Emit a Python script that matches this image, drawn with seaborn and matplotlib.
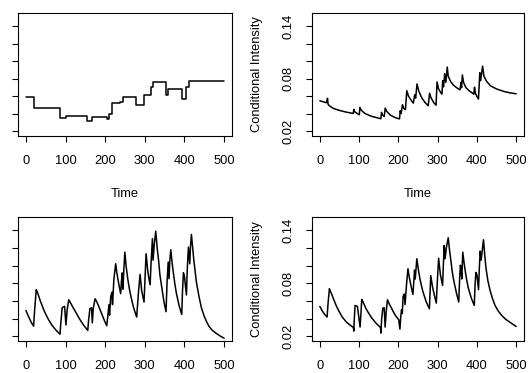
import numpy as np
import pandas as pd
import matplotlib
matplotlib.use("Agg")
import matplotlib.pyplot as plt
import seaborn as sns

# ---------------- data ----------------
# top-left: piecewise constant intensity (step change times and levels)
step_t = [0, 19.4, 86, 101, 155, 167, 205, 209, 216, 238, 245, 279, 298, 315,
          321.5, 354.4, 358.6, 393, 403, 411.6, 500]
step_v = [0.0593, 0.0462, 0.0350, 0.0376, 0.0323, 0.0368, 0.0346, 0.0398, 0.0525,
          0.0533, 0.0597, 0.0507, 0.0611, 0.0712, 0.0765, 0.0619, 0.0690, 0.0574,
          0.0705, 0.0776, 0.0776]

# top-right: conditional intensity (self-exciting, slow decay)
tr_t = [0, 10, 17, 19.5, 21, 25, 35, 50, 65, 85, 86.5, 88.5, 95, 100.5, 102, 106,
        115, 130, 145, 155.5, 157, 159, 164, 166.5, 170, 180, 192, 203, 204.5, 207,
        210.5, 214, 218, 221.5, 226, 232, 238, 241.5, 244, 247.5, 252, 260, 268,
        276, 279.5, 283, 290, 296, 298.5, 302, 307, 311, 313, 315, 318, 321, 324.5,
        327, 333, 340, 348, 357, 359.5, 361, 363, 366, 372, 380, 388, 392, 394, 396,
        400, 404, 407.5, 409.5, 414.5, 418, 425, 435, 450, 470, 485, 500]
tr_v = [0.0550, 0.0537, 0.0528, 0.0578, 0.0510, 0.0490, 0.0462, 0.0440, 0.0423,
        0.0405, 0.0452, 0.0425, 0.0405, 0.0390, 0.0475, 0.0440, 0.0405, 0.0375,
        0.0357, 0.0345, 0.0418, 0.0390, 0.0370, 0.0467, 0.0430, 0.0385, 0.0358,
        0.0343, 0.0435, 0.0405, 0.0505, 0.0460, 0.0450, 0.0665, 0.0600, 0.0560,
        0.0523, 0.0617, 0.0580, 0.0742, 0.0660, 0.0580, 0.0530, 0.0493, 0.0636,
        0.0585, 0.0530, 0.0500, 0.0765, 0.0690, 0.0650, 0.0625, 0.0780, 0.0710,
        0.0860, 0.0760, 0.0935, 0.0830, 0.0770, 0.0730, 0.0700, 0.0675, 0.0760,
        0.0700, 0.0845, 0.0760, 0.0700, 0.0665, 0.0640, 0.0625, 0.0705, 0.0640,
        0.0600, 0.0570, 0.0870, 0.0780, 0.0945, 0.0830, 0.0770, 0.0720, 0.0685,
        0.0655, 0.0640, 0.0630]

# bottom-left: conditional intensity
bl_t = [0, 8, 14, 19.4, 22, 26, 29, 32, 36, 40, 44, 48, 57, 66, 75, 86, 88, 91.5,
        97.5, 101, 104, 108, 111, 115, 120, 125, 135, 145, 156, 158.5, 161.5, 165.5,
        167.5, 170, 174.5, 178, 182, 186, 190, 198, 204, 207, 209.5, 211, 214, 217,
        218.5, 222, 226.5, 229, 232, 239, 241, 243, 244.8, 247, 249.6, 253, 257,
        261, 265, 272, 279.5, 284, 288, 292, 298, 300.5, 303.2, 308, 313.3, 316,
        319.2, 320.8, 324, 327.6, 331, 335, 338, 342, 348, 353.5, 356, 359, 361.2,
        363, 365.5, 369, 372, 376, 380, 387, 393.2, 395, 397.4, 400, 405, 407, 410,
        413.4, 415, 417.6, 421, 424, 430, 437, 443, 450, 456, 462, 470, 479, 490,
        500]
bl_v = [0.0494, 0.0410, 0.0355, 0.0315, 0.0500, 0.0729, 0.0700, 0.0660, 0.0605,
        0.0560, 0.0512, 0.0470, 0.0390, 0.0325, 0.0275, 0.0225, 0.0350, 0.0525,
        0.0540, 0.0330, 0.0500, 0.0615, 0.0592, 0.0560, 0.0518, 0.0480, 0.0400,
        0.0330, 0.0268, 0.0400, 0.0513, 0.0525, 0.0353, 0.0520, 0.0626, 0.0598,
        0.0560, 0.0515, 0.0470, 0.0380, 0.0320, 0.0450, 0.0560, 0.0440, 0.0650,
        0.0700, 0.0560, 0.0850, 0.1023, 0.0935, 0.0850, 0.0683, 0.0820, 0.0919,
        0.0734, 0.0950, 0.1154, 0.0990, 0.0850, 0.0740, 0.0650, 0.0520, 0.0419,
        0.0700, 0.0902, 0.0720, 0.0589, 0.0850, 0.1136, 0.0920, 0.0784, 0.1050,
        0.1306, 0.1063, 0.1250, 0.1392, 0.1210, 0.1050, 0.0900, 0.0780, 0.0600,
        0.0480, 0.0800, 0.1042, 0.0853, 0.1050, 0.1181, 0.1030, 0.0920, 0.0790,
        0.0680, 0.0540, 0.0449, 0.0700, 0.0921, 0.0880, 0.0669, 0.0950, 0.1211,
        0.1022, 0.1200, 0.1355, 0.1190, 0.1050, 0.0820, 0.0645, 0.0520, 0.0427,
        0.0365, 0.0314, 0.0270, 0.0238, 0.0205, 0.0180]

# bottom-right: conditional intensity
br_t = [0, 6, 12, 18.4, 21, 24.3, 27, 30, 34, 38, 42, 47, 57, 68, 78, 85.5, 86.5,
        88, 89.8, 95.7, 102.5, 104.5, 106.7, 110, 113, 117, 122, 132, 143, 154.6,
        155.4, 157.5, 160.4, 163.8, 166.3, 169, 172.2, 177, 182, 187, 192, 200.8,
        204, 206, 208, 210, 212, 215, 217, 221, 224.4, 227, 230, 237, 239, 241.2,
        243, 247, 251, 255, 259, 263, 271, 279, 282.5, 287, 292, 296.6, 299, 302.5,
        307, 312.6, 314.5, 316.8, 319, 322, 327, 330, 334, 337, 341, 348, 353.8,
        356, 358, 360, 361.5, 364, 367, 370, 374, 378, 386, 393.3, 395.5, 397.5,
        400, 404.2, 406, 408.4, 410.9, 413, 416.8, 420, 423, 428, 433.6, 440,
        446.2, 454, 463, 473, 484, 500]
br_v = [0.0540, 0.0490, 0.0450, 0.0419, 0.0580, 0.0740, 0.0710, 0.0680, 0.0633,
        0.0590, 0.0545, 0.0500, 0.0420, 0.0360, 0.0325, 0.0300, 0.0260, 0.0420,
        0.0551, 0.0540, 0.0306, 0.0450, 0.0619, 0.0590, 0.0560, 0.0520, 0.0480,
        0.0410, 0.0350, 0.0300, 0.0237, 0.0400, 0.0520, 0.0525, 0.0306, 0.0480,
        0.0615, 0.0565, 0.0525, 0.0480, 0.0440, 0.0389, 0.0283, 0.0420, 0.0500,
        0.0460, 0.0650, 0.0680, 0.0560, 0.0800, 0.0966, 0.0890, 0.0820, 0.0675,
        0.0800, 0.0951, 0.0850, 0.1080, 0.0955, 0.0850, 0.0770, 0.0700, 0.0590,
        0.0513, 0.0888, 0.0760, 0.0660, 0.0577, 0.0800, 0.1086, 0.0900, 0.0777,
        0.1000, 0.1230, 0.1080, 0.1200, 0.1317, 0.1190, 0.1050, 0.0940, 0.0834,
        0.0690, 0.0589, 0.0850, 0.1006, 0.0950, 0.0850, 0.1154, 0.1045, 0.0950,
        0.0840, 0.0750, 0.0630, 0.0551, 0.0800, 0.0925, 0.0900, 0.0729, 0.0950,
        0.1165, 0.1063, 0.1150, 0.1294, 0.1120, 0.0980, 0.0830, 0.0720, 0.0625,
        0.0551, 0.0490, 0.0438, 0.0395, 0.0360, 0.0313]

x_ticks = [0, 100, 200, 300, 400, 500]
y_ticks = [0.02, 0.04, 0.06, 0.08, 0.10, 0.12, 0.14]
y_tick_labels = ["0.02", "", "", "0.08", "", "", "0.14"]
x_label = "Time"
y_label = "Conditional Intensity"

# ---------------- style ----------------
sns.set_theme(style="ticks")
plt.rcParams["font.family"] = ["Liberation Sans", "DejaVu Sans"]
plt.rcParams["axes.edgecolor"] = "black"
plt.rcParams["axes.linewidth"] = 0.8

W, H = 528, 373
fig = plt.figure(figsize=(W / 100, H / 100), dpi=100)


def make_ax(x0, y0, x1, y1):
    return fig.add_axes([x0 / W, 1 - y1 / H, (x1 - x0) / W, (y1 - y0) / H])


ax_tl = make_ax(18, 13, 232, 136)
ax_tr = make_ax(312, 13, 524, 136)
ax_bl = make_ax(18, 217, 232, 341)
ax_br = make_ax(312, 217, 524, 341)

fs = 9.3
# (axis, times, values, step?, show y labels?, show x label?)
panels = [
    (ax_tl, step_t, step_v, True, False, True),
    (ax_tr, tr_t, tr_v, False, True, True),
    (ax_bl, bl_t, bl_v, False, False, False),
    (ax_br, br_t, br_v, False, True, False),
]

for ax, t, v, is_step, show_ylab, show_xlab in panels:
    df = pd.DataFrame({"t": t, "v": v})
    kw = dict(drawstyle="steps-post") if is_step else {}
    sns.lineplot(data=df, x="t", y="v", ax=ax, color="black", linewidth=1.1,
                 estimator=None, sort=False, **kw)
    ax.set_xlim(-20, 520)
    ax.set_ylim(0.0148, 0.1552)
    ax.set_xticks(x_ticks)
    ax.set_xticklabels([str(x) for x in x_ticks])
    ax.set_yticks(y_ticks)
    if show_ylab:
        ax.set_yticklabels(y_tick_labels, rotation=90, va="center")
    else:
        ax.set_yticklabels([""] * len(y_ticks))
    ax.tick_params(axis="both", which="major", direction="out", length=4.3,
                   width=0.8, color="black", labelsize=fs, labelcolor="black",
                   bottom=True, left=True, top=False, right=False)
    ax.tick_params(axis="x", pad=9.5)
    ax.tick_params(axis="y", pad=8.0)
    ax.set_xlabel(x_label if show_xlab else "", fontsize=fs, color="black",
                  labelpad=15)
    ax.set_ylabel(y_label if show_ylab else "", fontsize=fs, color="black",
                  labelpad=14)
    for s in ax.spines.values():
        s.set_visible(True)
        s.set_color("black")
        s.set_linewidth(0.8)
    ax.grid(False)
    ax.set_facecolor("white")

fig.savefig("out.png", dpi=100, facecolor="white")
